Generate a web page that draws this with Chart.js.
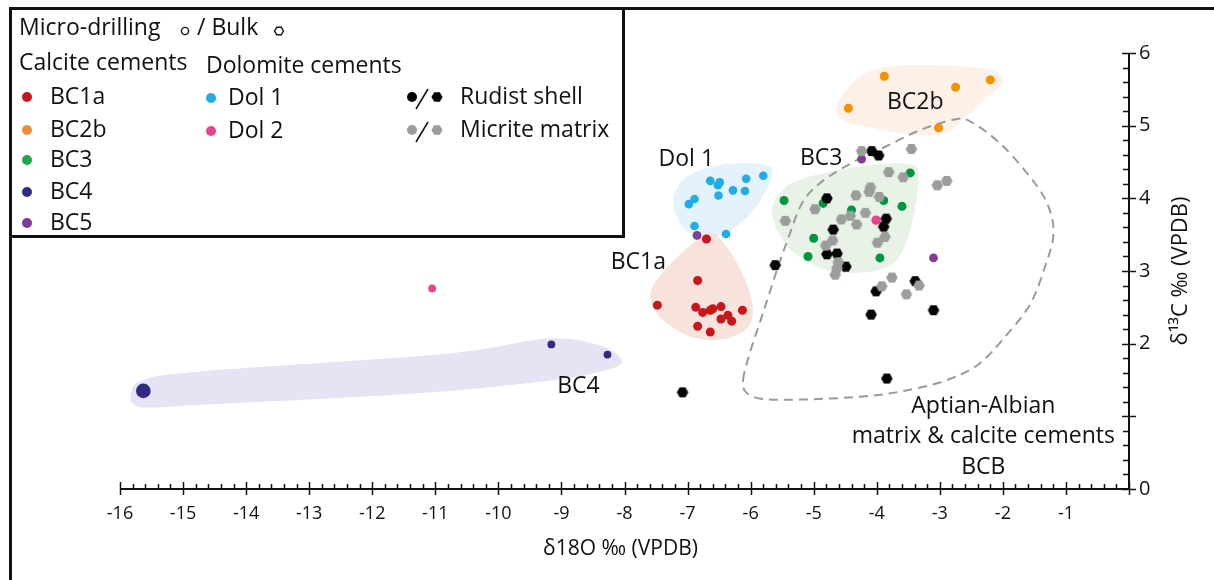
<!DOCTYPE html>
<html>
<head>
<meta charset="utf-8">
<script src="https://cdn.jsdelivr.net/npm/chart.js@4.4.1/dist/chart.umd.min.js"></script>
<style>
  html, body { margin: 0; padding: 0; background: #fff; }
</style>
</head>
<body>
<canvas id="isoChart" width="1214" height="580"></canvas>
<script>
// axis ticks
const xTicks = [-16, -15, -14, -13, -12, -11, -10, -9, -8, -7, -6, -5, -4, -3, -2, -1, 0];
const xTickLabels = ["-16", "-15", "-14", "-13", "-12", "-11", "-10", "-9", "-8", "-7", "-6", "-5", "-4", "-3", "-2", "-1", ""];
const yTicks = [0, 1, 2, 3, 4, 5, 6];
const yTickLabels = ["0", "", "2", "3", "4", "5", "6"];

// [d18O, d13C] pairs
const bc1a = [[-6.70, 3.44], [-6.84, 2.87], [-7.48, 2.53], [-6.87, 2.50], [-6.76, 2.43], [-6.64, 2.46], [-6.60, 2.48],
  [-6.47, 2.51], [-6.13, 2.46], [-6.47, 2.34], [-6.36, 2.39], [-6.30, 2.31], [-6.84, 2.24], [-6.64, 2.16]];
const bc2b = [[-3.88, 5.68], [-4.45, 5.24], [-2.75, 5.53], [-2.20, 5.63], [-3.02, 4.97]];
const bc3 = [[-3.47, 4.35], [-5.47, 3.97], [-4.85, 3.93], [-3.89, 3.97], [-3.60, 3.89], [-4.40, 3.84], [-5.00, 3.45],
  [-5.09, 3.20], [-3.95, 3.18]];
const bc4 = [[-15.63, 1.35], [-9.16, 1.99], [-8.27, 1.85]];
const bc5 = [[-6.85, 3.49], [-4.24, 4.54], [-3.10, 3.18]];
const dol1 = [[-6.64, 4.24], [-6.49, 4.22], [-6.52, 4.18], [-5.80, 4.31], [-6.07, 4.27], [-6.28, 4.11], [-6.09, 4.10],
  [-6.51, 4.04], [-6.89, 3.99], [-6.98, 3.92], [-6.89, 3.62], [-6.39, 3.51]];
const dol2 = [[-11.05, 2.76], [-4.01, 3.70]];
const rudist = [[-4.08, 4.65], [-3.97, 4.59], [-4.79, 4.00], [-3.85, 3.72], [-3.89, 3.61], [-4.69, 3.57], [-4.79, 3.23],
  [-4.63, 3.24], [-4.49, 3.06], [-5.61, 3.08], [-4.01, 2.72], [-3.39, 2.86], [-4.09, 2.40], [-3.10, 2.46],
  [-3.84, 1.52], [-7.08, 1.33]];
const micrite = [[-4.24, 4.65], [-3.45, 4.68], [-3.81, 4.36], [-3.58, 4.29], [-4.10, 4.15], [-4.12, 4.09], [-4.33, 4.04],
  [-3.96, 4.02], [-4.98, 3.85], [-4.18, 3.80], [-4.42, 3.76], [-4.56, 3.71], [-4.32, 3.64], [-5.45, 3.69],
  [-3.87, 3.47], [-3.99, 3.39], [-4.70, 3.42], [-4.81, 3.35], [-4.61, 3.12], [-4.63, 3.04], [-4.66, 2.95],
  [-3.76, 2.91], [-3.92, 2.79], [-3.53, 2.68], [-3.04, 4.18], [-2.89, 4.24], [-3.33, 2.80]];

// field outlines, same units
const bc4Field = [[-15.83, 1.28], [-15.66, 1.49], [-14.68, 1.62], [-10.84, 1.86], [-9.21, 2.07], [-8.38, 1.97],
  [-8.05, 1.78], [-8.27, 1.64], [-9.21, 1.49], [-11.39, 1.31], [-14.68, 1.16], [-15.55, 1.12], [-15.77, 1.16]];
const dol1Field = [[-7.23, 3.96], [-7.02, 4.29], [-6.48, 4.46], [-5.77, 4.46], [-5.67, 4.29], [-5.91, 3.89],
  [-6.29, 3.57], [-6.67, 3.45], [-7.04, 3.57]];
const bc1aField = [[-6.67, 3.53], [-6.45, 3.41], [-6.16, 3.02], [-5.97, 2.54], [-6.05, 2.22], [-6.45, 2.06],
  [-6.96, 2.10], [-7.43, 2.36], [-7.59, 2.70], [-7.32, 3.05], [-6.96, 3.35]];
const bc3Field = [[-5.66, 3.85], [-5.53, 4.08], [-5.21, 4.26], [-4.26, 4.44], [-3.47, 4.47], [-3.34, 4.29],
  [-3.42, 3.75], [-3.58, 3.30], [-3.84, 3.05], [-4.37, 2.97], [-4.82, 3.02], [-5.32, 3.26], [-5.58, 3.57]];
const bc2bField = [[-4.63, 5.27], [-4.26, 5.68], [-3.58, 5.83], [-2.25, 5.78], [-2.01, 5.59], [-2.25, 5.39],
  [-2.63, 5.09], [-2.92, 4.90], [-3.39, 4.87], [-3.95, 4.95], [-4.50, 5.06]];
const bcbField = [[-6.12, 1.50], [-6.01, 1.88], [-5.80, 2.43], [-5.58, 3.02], [-5.40, 3.46], [-5.18, 3.94],
  [-4.87, 4.23], [-4.37, 4.50], [-3.84, 4.72], [-3.31, 4.94], [-2.79, 5.08], [-2.52, 5.06], [-2.00, 4.72],
  [-1.46, 4.17], [-1.25, 3.82], [-1.20, 3.48], [-1.32, 3.09], [-1.57, 2.54], [-2.00, 2.06], [-2.41, 1.70],
  [-2.95, 1.48], [-3.63, 1.34], [-4.26, 1.27], [-5.21, 1.23], [-5.82, 1.24], [-6.07, 1.33]];

// text anchored in data units
const fieldLabels = [
  ["Dol 1", -7.02, 4.54], ["BC3", -4.88, 4.55], ["BC2b", -3.39, 5.32], ["BC1a", -7.78, 3.12], ["BC4", -8.73, 1.41],
  ["Aptian-Albian", -2.31, 1.14], ["matrix & calcite cements", -2.31, 0.72], ["BCB", -2.31, 0.30]
];

const FONT = '"Open Sans", "DejaVu Sans", sans-serif';
const toXY = arr => arr.map(p => ({ x: p[0], y: p[1] }));

function hexagon(ctx, cx, cy, r) {
  ctx.beginPath();
  for (let i = 0; i < 6; i++) {
    const a = Math.PI / 6 + i * Math.PI / 3 + Math.PI / 2;
    const px = cx + r * Math.cos(a), py = cy + r * Math.sin(a);
    if (i === 0) ctx.moveTo(px, py); else ctx.lineTo(px, py);
  }
  ctx.closePath();
}

function hexSprite(color, r) {
  const c = document.createElement("canvas");
  const s = Math.ceil(r * 2 + 2);
  c.width = s; c.height = s;
  const g = c.getContext("2d");
  hexagon(g, s / 2, s / 2, r);
  g.fillStyle = color;
  g.fill();
  return c;
}

const hexBlack = hexSprite("#050505", 5.8);
const hexGray = hexSprite("#9c9c9c", 5.8);

function smoothClosed(ctx, pts) {
  const n = pts.length;
  ctx.moveTo(pts[0][0], pts[0][1]);
  for (let i = 0; i < n; i++) {
    const p0 = pts[(i - 1 + n) % n], p1 = pts[i], p2 = pts[(i + 1) % n], p3 = pts[(i + 2) % n];
    ctx.bezierCurveTo(
      p1[0] + (p2[0] - p0[0]) / 6, p1[1] + (p2[1] - p0[1]) / 6,
      p2[0] - (p3[0] - p1[0]) / 6, p2[1] - (p3[1] - p1[1]) / 6,
      p2[0], p2[1]);
  }
  ctx.closePath();
}

const fields = [
  [bc4Field, "#e6e4f4"], [dol1Field, "#e3f2fb"], [bc1aField, "#f8e3dc"],
  [bc3Field, "#e8f2e7"], [bc2bField, "#fdf0e6"]
];

const decor = {
  id: "decor",
  beforeDatasetsDraw(chart) {
    const { ctx, scales: { x, y } } = chart;
    const px = p => [x.getPixelForValue(p[0]), y.getPixelForValue(p[1])];
    ctx.save();
    fields.forEach(([pts, color]) => {
      ctx.beginPath();
      smoothClosed(ctx, pts.map(px));
      ctx.fillStyle = color;
      ctx.fill();
    });
    ctx.beginPath();
    smoothClosed(ctx, bcbField.map(px));
    ctx.setLineDash([9, 6]);
    ctx.strokeStyle = "#9a9a9a";
    ctx.lineWidth = 2;
    ctx.stroke();
    ctx.restore();
  },
  afterDatasetsDraw(chart) {
    const { ctx, scales: { x, y } } = chart;
    ctx.save();
    ctx.fillStyle = "#111";
    ctx.font = "23px " + FONT;
    ctx.textAlign = "center";
    ctx.textBaseline = "middle";
    fieldLabels.forEach(([t, vx, vy]) => ctx.fillText(t, x.getPixelForValue(vx), y.getPixelForValue(vy)));
    ctx.restore();
  },
  afterDraw(chart) {
    const { ctx, scales: { x, y } } = chart;
    const x0 = y.left, yBase = x.top;
    ctx.save();
    ctx.strokeStyle = "#111";

    // axis lines and ticks
    ctx.lineWidth = 2;
    ctx.beginPath();
    ctx.moveTo(x.left, yBase); ctx.lineTo(x.right, yBase);
    ctx.moveTo(x0, y.top); ctx.lineTo(x0, y.bottom);
    ctx.stroke();
    ctx.lineWidth = 1.5;
    ctx.beginPath();
    for (let i = 0; i <= 80; i++) {
      const v = -16 + i * 0.2, p = Math.round(x.getPixelForValue(v)) + 0.5;
      if (i % 5 === 0) { ctx.moveTo(p, yBase - 7); ctx.lineTo(p, yBase + 6); }
      else { ctx.moveTo(p, yBase - 5); ctx.lineTo(p, yBase); }
    }
    for (let i = 0; i <= 30; i++) {
      const v = i * 0.2, p = Math.round(y.getPixelForValue(v)) + 0.5;
      if (i % 5 === 0) { ctx.moveTo(x0 - 7, p); ctx.lineTo(x0 + 7, p); }
      else { ctx.moveTo(x0 - 6, p); ctx.lineTo(x0 + 1, p); }
    }
    ctx.stroke();

    // axis titles
    ctx.fillStyle = "#111";
    ctx.textAlign = "center";
    ctx.textBaseline = "middle";
    ctx.font = "21px " + FONT;
    ctx.fillText("δ18O ‰ (VPDB)", (x.left + x.right) / 2 - 4, 549);
    ctx.save();
    ctx.font = "22px " + FONT;
    ctx.translate(1181, (y.top + y.bottom) / 2);
    ctx.rotate(-Math.PI / 2);
    ctx.fillText("δ¹³C ‰ (VPDB)", 0, 0);
    ctx.restore();

    // frame and legend box
    ctx.lineWidth = 3;
    ctx.beginPath();
    ctx.moveTo(9, 8.5); ctx.lineTo(1214, 8.5);
    ctx.moveTo(10.5, 8); ctx.lineTo(10.5, 580);
    ctx.moveTo(623.5, 8); ctx.lineTo(623.5, 237.5);
    ctx.moveTo(9, 236.5); ctx.lineTo(625, 236.5);
    ctx.stroke();

    ctx.font = "23px " + FONT;
    ctx.textAlign = "left";
    ctx.fillText("Micro-drilling", 19, 28);
    ctx.fillText("/ Bulk", 197, 28);
    ctx.fillText("Calcite cements", 19, 63);
    ctx.fillText("Dolomite cements", 206, 66);
    ctx.lineWidth = 1.4;
    ctx.beginPath(); ctx.arc(185, 31, 3.6, 0, Math.PI * 2); ctx.stroke();
    hexagon(ctx, 279, 31, 4.4); ctx.stroke();

    const dot = (cx, cy, color) => {
      ctx.beginPath(); ctx.arc(cx, cy, 5, 0, Math.PI * 2); ctx.fillStyle = color; ctx.fill();
    };
    const calcite = [["BC1a", "#c4161c", 97], ["BC2b", "#f08a3c", 130], ["BC3", "#1ea84b", 160],
      ["BC4", "#2e2c84", 192], ["BC5", "#7f3b93", 223]];
    calcite.forEach(([t, c, ry]) => { dot(27, ry, c); ctx.fillStyle = "#111"; ctx.fillText(t, 50, ry); });
    const dolo = [["Dol 1", "#20ade5", 98], ["Dol 2", "#e8438e", 131]];
    dolo.forEach(([t, c, ry]) => { dot(211, ry, c); ctx.fillStyle = "#111"; ctx.fillText(t, 228, ry); });
    const bulk = [["Rudist shell", "#050505", 97], ["Micrite matrix", "#9c9c9c", 130]];
    bulk.forEach(([t, c, ry]) => {
      dot(412, ry, c);
      hexagon(ctx, 437, ry, 5.6); ctx.fillStyle = c; ctx.fill();
      ctx.strokeStyle = "#111"; ctx.lineWidth = 1.5;
      ctx.beginPath(); ctx.moveTo(416, ry + 12); ctx.lineTo(428, ry - 8); ctx.stroke();
      ctx.fillStyle = "#111"; ctx.fillText(t, 460, ry);
    });
    ctx.restore();
  }
};

const circleSet = (label, data, color, radius) => ({
  label, data: toXY(data), backgroundColor: color, borderWidth: 0,
  pointRadius: radius, pointHoverRadius: radius
});

new Chart(document.getElementById("isoChart"), {
  type: "scatter",
  data: {
    datasets: [
      { label: "Micrite matrix", data: toXY(micrite), pointStyle: hexGray, pointRadius: 6 },
      { label: "Rudist shell", data: toXY(rudist), pointStyle: hexBlack, pointRadius: 6 },
      circleSet("Dol 1", dol1, "#20ade5", 4.3),
      circleSet("BC1a", bc1a, "#c8161d", 4.5),
      circleSet("BC2b", bc2b, "#f39200", 4.5),
      circleSet("BC3", bc3, "#009640", 4.5),
      circleSet("BC4", bc4, "#312a84", ctx => ctx.dataIndex === 0 ? 7.3 : 3.9),
      circleSet("BC5", bc5, "#833c94", 4.4),
      circleSet("Dol 2", dol2, "#e8438e", ctx => ctx.dataIndex === 0 ? 3.9 : 4.7)
    ]
  },
  options: {
    responsive: false,
    devicePixelRatio: 1,
    animation: false,
    events: [],
    layout: { padding: { left: 120, top: 53, right: 0, bottom: 0 } },
    plugins: { legend: { display: false }, tooltip: { enabled: false } },
    scales: {
      x: {
        type: "linear", min: -16, max: 0,
        afterFit: s => { s.height = 91; },
        afterBuildTicks: s => { s.ticks = xTicks.map(v => ({ value: v })); },
        ticks: {
          padding: 14, color: "#111", font: { family: FONT, size: 18 },
          maxRotation: 0, autoSkip: false,
          callback: v => xTickLabels[xTicks.indexOf(Math.round(v))]
        },
        grid: { display: false, drawTicks: false },
        border: { display: false }
      },
      y: {
        type: "linear", position: "right", min: 0, max: 6,
        afterFit: s => { s.width = 85; },
        afterBuildTicks: s => { s.ticks = yTicks.map(v => ({ value: v })); },
        ticks: {
          padding: 10, color: "#111", font: { family: FONT, size: 20 },
          autoSkip: false,
          callback: v => yTickLabels[yTicks.indexOf(Math.round(v))]
        },
        grid: { display: false, drawTicks: false },
        border: { display: false }
      }
    }
  },
  plugins: [decor]
});
</script>
</body>
</html>
